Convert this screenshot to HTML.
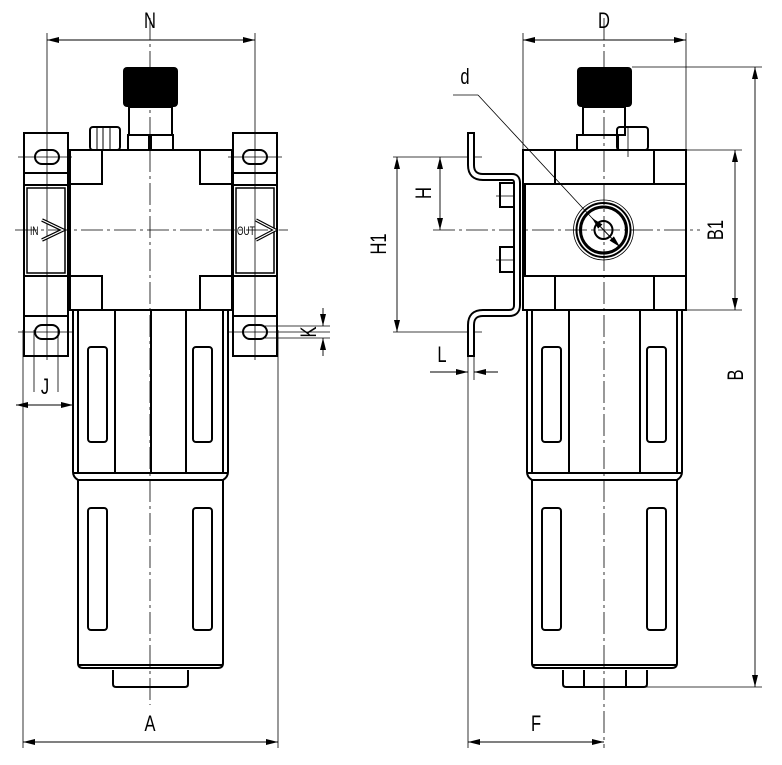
<!DOCTYPE html>
<html><head><meta charset="utf-8"><style>
html,body{margin:0;padding:0;background:#fff;}
svg{display:block;}
text{font-family:"Liberation Sans",sans-serif;font-size:22px;fill:#000;}
</style></head><body>
<svg width="782" height="765" viewBox="0 0 782 765" xmlns="http://www.w3.org/2000/svg">
<defs>
<marker id="ar" viewBox="0 0 12 6" refX="12" refY="3" markerWidth="12" markerHeight="6" orient="auto-start-reverse" markerUnits="userSpaceOnUse"><path d="M0,0 L12,3 L0,6 z" fill="#000"/></marker>
</defs>
<g fill="none" stroke="#000">
<!-- ===== LEFT VIEW ===== -->
<g stroke-width="0.8" stroke-dasharray="22,4,3,4">
<line x1="150" y1="18" x2="150" y2="705"/>
<line x1="15" y1="230" x2="288" y2="230"/>
</g>
<g stroke-width="0.8">
<line x1="47" y1="33" x2="47" y2="360"/>
<line x1="255" y1="33" x2="255" y2="360"/>
<line x1="23" y1="330" x2="23" y2="748"/>
<line x1="278" y1="330" x2="278" y2="748"/>
<line x1="73" y1="395" x2="73" y2="412"/>
<line x1="34" y1="330" x2="34" y2="392"/>
<line x1="58" y1="330" x2="58" y2="392"/>
<line x1="18" y1="157" x2="72" y2="157"/><line x1="228" y1="157" x2="282" y2="157"/>
<line x1="18" y1="332" x2="72" y2="332"/><line x1="228" y1="332" x2="330" y2="332"/>
<line x1="265" y1="326" x2="330" y2="326"/>
<line x1="265" y1="338" x2="330" y2="338"/>
</g>
<g stroke-width="0.9">
<line x1="47" y1="40" x2="255" y2="40" marker-start="url(#ar)" marker-end="url(#ar)"/>
<line x1="23" y1="742" x2="278" y2="742" marker-start="url(#ar)" marker-end="url(#ar)"/>
<line x1="16" y1="405" x2="73" y2="405" marker-start="url(#ar)" marker-end="url(#ar)"/>
<line x1="323" y1="308" x2="323" y2="326" marker-end="url(#ar)"/>
<line x1="323" y1="356" x2="323" y2="338" marker-end="url(#ar)"/>
</g>
<g stroke-width="2">
<rect x="70" y="150" width="162" height="160"/>
<rect x="70" y="150" width="32" height="34"/><rect x="200" y="150" width="32" height="34"/>
<rect x="70" y="276" width="32" height="34"/><rect x="200" y="276" width="32" height="34"/>
<rect x="24" y="133" width="44" height="223"/>
<line x1="24" y1="173" x2="68" y2="173"/><line x1="24" y1="316" x2="68" y2="316"/>
<line x1="24" y1="276" x2="68" y2="276"/>
<rect x="24" y="185" width="44" height="91"/><rect x="27" y="188" width="38" height="85" stroke-width="1.5"/>
<rect x="233" y="133" width="44" height="223"/>
<line x1="233" y1="173" x2="277" y2="173"/><line x1="233" y1="316" x2="277" y2="316"/>
<line x1="233" y1="276" x2="277" y2="276"/>
<rect x="233" y="185" width="44" height="91"/><rect x="236" y="188" width="38" height="85" stroke-width="1.5"/>
<rect x="35" y="150" width="24" height="14" rx="7"/><rect x="35" y="325" width="24" height="14" rx="7"/>
<rect x="243" y="150" width="24" height="14" rx="7"/><rect x="243" y="325" width="24" height="14" rx="7"/>
<rect x="129" y="107" width="43" height="28"/>
<rect x="128" y="135" width="45" height="15"/>
<rect x="90" y="127" width="30" height="23" rx="3"/>
</g>
<line x1="150" y1="135" x2="150" y2="150" stroke-width="4"/>
<g stroke-width="1"><line x1="97" y1="128" x2="97" y2="150"/><line x1="103" y1="128" x2="103" y2="150"/><line x1="110" y1="128" x2="110" y2="150"/></g>
<rect x="123" y="67" width="55" height="40" rx="4" fill="#000" stroke="none"/>
<path d="M42 220 L63 230 L42 240" stroke-width="3.5"/><path d="M42 220 L63 230 L42 240" stroke="#fff" stroke-width="1.2"/>
<path d="M256 220 L275 230 L256 240" stroke-width="3.5"/><path d="M256 220 L275 230 L256 240" stroke="#fff" stroke-width="1.2"/>
<g stroke-width="2">
<path d="M73 310 V472 Q73 477 78 480 H223 Q228 477 228 472 V310"/>
<line x1="78" y1="310" x2="78" y2="472"/><line x1="223" y1="310" x2="223" y2="472"/>
<line x1="115" y1="310" x2="115" y2="473"/><line x1="186" y1="310" x2="186" y2="473"/>
<line x1="73" y1="473" x2="228" y2="473"/>
<rect x="88" y="347" width="19" height="95" rx="3"/><rect x="193" y="347" width="19" height="95" rx="3"/>
<path d="M78 480 V663 Q78 668 83 668 H218 Q223 668 223 663 V480"/>
<line x1="78" y1="665" x2="223" y2="665"/>
<rect x="88" y="508" width="19" height="122" rx="3"/><rect x="193" y="508" width="19" height="122" rx="3"/>
<path d="M113 670 V684 Q113 687 116 687 H185 Q188 687 188 684 V670"/>
</g>
<line x1="151" y1="310" x2="151" y2="473" stroke-width="2"/>

<!-- ===== RIGHT VIEW ===== -->
<g stroke-width="0.8" stroke-dasharray="22,4,3,4">
<line x1="604" y1="18" x2="604" y2="748"/>
<line x1="433" y1="230" x2="700" y2="230"/>
</g>
<g stroke-width="0.8">
<line x1="523" y1="33" x2="523" y2="150"/><line x1="686" y1="33" x2="686" y2="150"/>
<line x1="632" y1="67" x2="762" y2="67"/>
<line x1="686" y1="150" x2="742" y2="150"/><line x1="686" y1="310" x2="742" y2="310"/>
<line x1="620" y1="687" x2="762" y2="687"/>
<line x1="393" y1="157" x2="482" y2="157"/><line x1="393" y1="332" x2="482" y2="332"/>
<line x1="468" y1="345" x2="468" y2="748"/><line x1="474" y1="355" x2="474" y2="380"/>
<line x1="453" y1="95" x2="478" y2="95"/>
<line x1="478" y1="95" x2="592" y2="218"/>
<line x1="496" y1="196" x2="520" y2="196"/><line x1="496" y1="260" x2="520" y2="260"/>
</g>
<g stroke-width="0.9">
<line x1="523" y1="40" x2="686" y2="40" marker-start="url(#ar)" marker-end="url(#ar)"/>
<line x1="468" y1="742" x2="604" y2="742" marker-start="url(#ar)" marker-end="url(#ar)"/>
<line x1="755" y1="67" x2="755" y2="687" marker-start="url(#ar)" marker-end="url(#ar)"/>
<line x1="735" y1="150" x2="735" y2="310" marker-start="url(#ar)" marker-end="url(#ar)"/>
<line x1="397" y1="157" x2="397" y2="332" marker-start="url(#ar)" marker-end="url(#ar)"/>
<line x1="440" y1="157" x2="440" y2="230" marker-start="url(#ar)" marker-end="url(#ar)"/>
<line x1="430" y1="372" x2="468" y2="372" marker-end="url(#ar)"/>
<line x1="498" y1="372" x2="474" y2="372" marker-end="url(#ar)"/>
<line x1="592" y1="218" x2="620" y2="247" marker-start="url(#ar)" marker-end="url(#ar)"/>
</g>
<g stroke-width="2">
<rect x="523" y="150" width="163" height="160"/>
<rect x="525" y="184" width="161" height="92"/>
<line x1="555" y1="150" x2="555" y2="184"/><line x1="654" y1="150" x2="654" y2="184"/>
<line x1="555" y1="276" x2="555" y2="310"/><line x1="654" y1="276" x2="654" y2="310"/>
<rect x="583" y="107" width="42" height="28"/>
<rect x="577" y="135" width="41" height="15"/>
<rect x="617" y="127" width="31" height="23" rx="3"/>
<rect x="500" y="183" width="15" height="24"/><rect x="500" y="247" width="15" height="25"/>
<circle cx="603.5" cy="230" r="27"/>
<circle cx="603.5" cy="230" r="23" stroke-width="3"/>
<circle cx="603.5" cy="230" r="9"/>
</g>
<circle cx="603.5" cy="230" r="30" stroke-width="0.8"/>
<line x1="628" y1="128" x2="628" y2="157" stroke-width="0.8"/>
<rect x="577" y="67" width="55" height="40" rx="4" fill="#000" stroke="none"/>
<path d="M471 133 V165 Q471 177 483 177 H512 Q517 177 517 183 V305 Q517 313 509 313 H483 Q471 313 471 325 V356" stroke-width="8"/>
<path d="M471 131 V165 Q471 177 483 177 H512 Q517 177 517 183 V305 Q517 313 509 313 H483 Q471 313 471 325 V358" stroke="#fff" stroke-width="4"/>
<line x1="467" y1="133" x2="475" y2="133" stroke-width="2"/><line x1="467" y1="356" x2="475" y2="356" stroke-width="2"/>
<g stroke-width="2">
<path d="M527 310 V472 Q527 477 532 480 H677 Q682 477 682 472 V310"/>
<line x1="532" y1="310" x2="532" y2="472"/><line x1="677" y1="310" x2="677" y2="472"/>
<line x1="569" y1="310" x2="569" y2="473"/><line x1="640" y1="310" x2="640" y2="473"/>
<line x1="527" y1="473" x2="682" y2="473"/>
<rect x="542" y="347" width="19" height="95" rx="3"/><rect x="647" y="347" width="19" height="95" rx="3"/>
<path d="M532 480 V663 Q532 668 537 668 H672 Q677 668 677 663 V480"/>
<line x1="532" y1="665" x2="677" y2="665"/>
<rect x="542" y="508" width="19" height="122" rx="3"/><rect x="647" y="508" width="19" height="122" rx="3"/>
<path d="M563 670 V684 Q563 687 566 687 H644 Q647 687 647 684 V670"/>
<line x1="584" y1="670" x2="584" y2="687"/><line x1="626" y1="670" x2="626" y2="687"/>
</g>
</g>
<g>
<text x="150" y="28" text-anchor="middle" transform="translate(150 0) scale(0.75 1) translate(-150 0)">N</text>
<text x="150" y="731" text-anchor="middle" transform="translate(150 0) scale(0.75 1) translate(-150 0)">A</text>
<text x="45" y="394" text-anchor="middle" transform="translate(45 0) scale(0.75 1) translate(-45 0)">J</text>
<text x="604" y="28" text-anchor="middle" transform="translate(604 0) scale(0.75 1) translate(-604 0)">D</text>
<text x="536" y="731" text-anchor="middle" transform="translate(536 0) scale(0.75 1) translate(-536 0)">F</text>
<text x="442" y="362" text-anchor="middle" transform="translate(442 0) scale(0.75 1) translate(-442 0)">L</text>
<text x="465" y="84" text-anchor="middle" transform="translate(465 0) scale(0.75 1) translate(-465 0)">d</text>
<text transform="translate(316 332) rotate(-90) scale(0.75 1)" text-anchor="middle">K</text>
<text transform="translate(431 193) rotate(-90) scale(0.75 1)" text-anchor="middle">H</text>
<text transform="translate(386 244) rotate(-90) scale(0.75 1)" text-anchor="middle">H1</text>
<text transform="translate(723 230) rotate(-90) scale(0.75 1)" text-anchor="middle">B1</text>
<text transform="translate(743 375) rotate(-90) scale(0.75 1)" text-anchor="middle">B</text>
<text x="30" y="235" style="font-size:12px" transform="translate(30 0) scale(0.7 1) translate(-30 0)">IN</text>
<text x="237" y="235" style="font-size:12px" transform="translate(237 0) scale(0.7 1) translate(-237 0)">OUT</text>
</g>
</svg>
</body></html>
